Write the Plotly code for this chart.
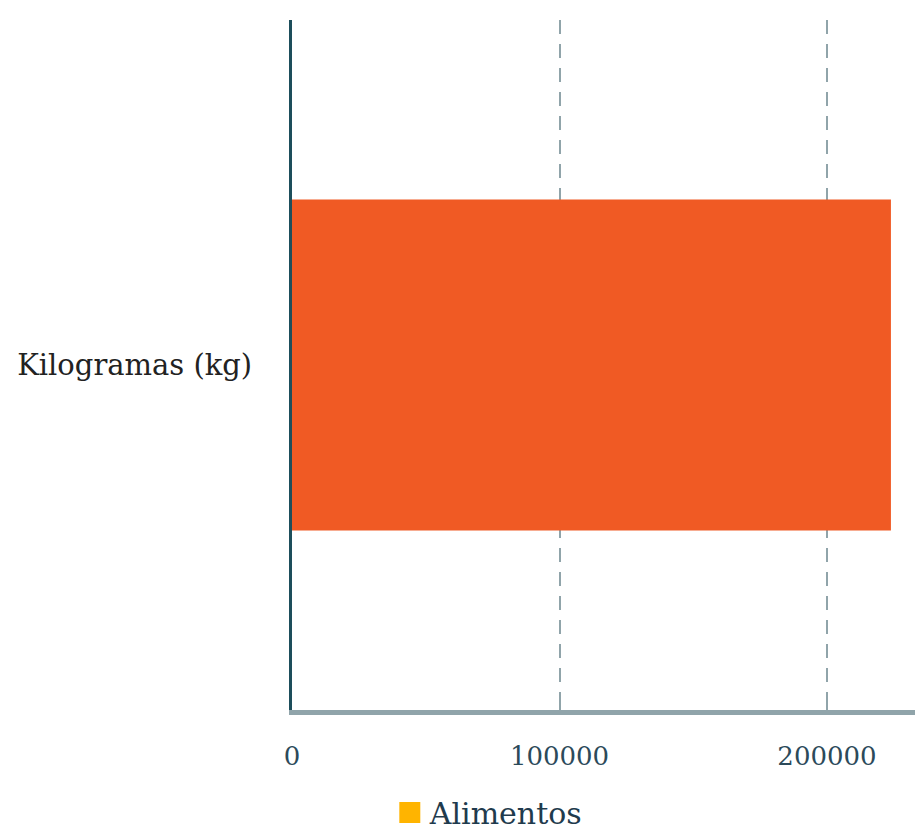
import plotly.graph_objects as go

categories = ["Kilogramas (kg)"]
values = [223900]
series_name = "Alimentos"
tick_vals = [0, 100000, 200000]
tick_text = ["0", "100000", "200000"]

FONT = "DejaVu Serif"

fig = go.Figure()
fig.add_trace(go.Bar(
    y=categories, x=values, orientation="h",
    marker=dict(color="#F05A24", line=dict(width=0)),
    showlegend=False, name=series_name,
))
# legend entry (legend swatch colour differs from bar in the reference)
fig.add_trace(go.Scatter(
    y=categories, x=[None], mode="markers",
    marker=dict(symbol="square", size=16, color="#FFB400",
                line=dict(color="#FFB400", width=5)),
    name=series_name, showlegend=True,
))

fig.update_layout(
    width=915, height=830,
    margin=dict(l=292, r=0, t=20, b=120),
    plot_bgcolor="white", paper_bgcolor="white",
    barmode="overlay", bargap=0.52,
    font=dict(family=FONT, size=26, color="#1F3B4D"),
    showlegend=True,
    legend=dict(orientation="h", x=0.157, xanchor="left",
                yref="container", y=0.021, yanchor="middle",
                itemsizing="trace",
                font=dict(family=FONT, size=30, color="#1F3B4D")),
    xaxis=dict(
        range=[0, 232900], tickvals=tick_vals, ticktext=tick_text,
        showgrid=True, gridcolor="#90A4AA", gridwidth=2, griddash="14px,10px",
        zeroline=False, showline=True, linecolor="#90A4AA", linewidth=5,
        ticks="inside", ticklen=8, tickwidth=2, tickcolor="#90A4AA",
        ticklabelstandoff=19,
        tickfont=dict(family=FONT, size=26, color="#2C4A5A"),
    ),
    yaxis=dict(
        showgrid=False, zeroline=False, showline=True, linecolor="#1D4E5B", linewidth=3,
        ticks="", ticklabelstandoff=31,
        tickfont=dict(family=FONT, size=29, color="#222222"),
    ),
)

fig.write_html("out.html", config={"displayModeBar": False},
               post_script="document.body.style.margin='0';document.body.style.overflow='hidden';")
